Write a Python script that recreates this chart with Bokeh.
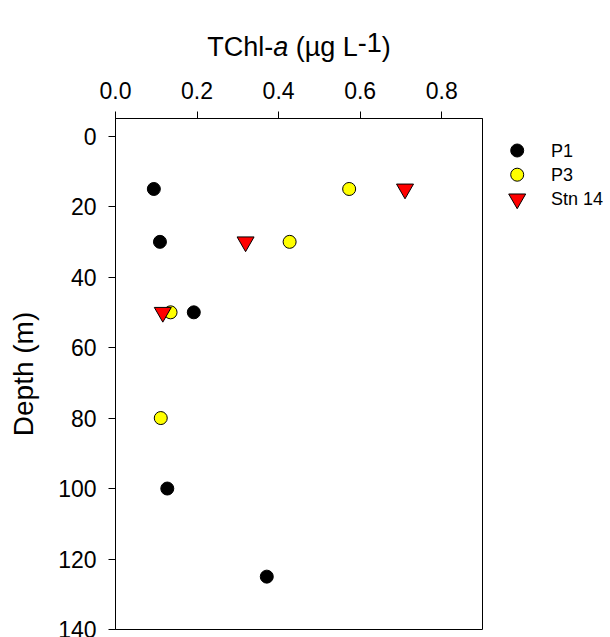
from bokeh.plotting import figure
from bokeh.models import Range1d, FixedTicker, PrintfTickFormatter, Label
from bokeh.layouts import row, column
from bokeh.core.properties import value
from bokeh.embed import file_html
from bokeh.resources import INLINE

# ---- data ----
p1_depth = [15, 30, 50, 100, 125]
p1_tchla = [0.094, 0.109, 0.192, 0.127, 0.371]
p3_depth = [15, 30, 50, 80]
p3_tchla = [0.573, 0.427, 0.135, 0.111]
stn14_depth = [15, 30, 50]
stn14_tchla = [0.710, 0.319, 0.116]
series_names = ["P1", "P3", "Stn 14"]
x_ticks = [0.0, 0.2, 0.4, 0.6, 0.8]
y_ticks = [0, 20, 40, 60, 80, 100, 120, 140]

# ---- styles ----
FONT = "Liberation Sans"
series_markers = ["circle", "circle", "inverted_triangle"]
series_fills = ["black", "#ffff00", "#ff0000"]
series_sizes = [13, 13, 17]

W, H = 610, 637
TITLE_H = 70
MAIN_W = 484
LEG_W = W - MAIN_W
FRAME_L, FRAME_R = 115, 482


def bare(fig):
    fig.grid.visible = False
    fig.outline_line_color = None
    fig.background_fill_color = "white"
    fig.border_fill_color = "white"


# ---- title strip (pixel coordinates, frame aligned with the main plot) ----
tf = figure(width=MAIN_W, height=TITLE_H, output_backend="svg",
            toolbar_location=None, x_axis_location=None, y_axis_location=None,
            x_range=Range1d(FRAME_L, FRAME_R), y_range=Range1d(TITLE_H, 0),
            min_border_left=FRAME_L, min_border_right=MAIN_W - FRAME_R,
            min_border_top=0, min_border_bottom=0)
bare(tf)
fs = 27
base_y = 46.5
SP = 0.278  # width of a space, em
# (text, style, space before in em, advance in em, vertical raise px)
pieces = [("TChl-", "normal", 0.0, 2.444, 0),
          ("a", "italic", 0.0, 0.556, 0),
          ("(\u00b5g", "normal", SP, 1.465, 0),
          ("L", "normal", SP, 0.556, 0),
          ("-1", "normal", 0.0, 0.889, 5),
          (")", "normal", 0.0, 0.333, 0)]
total = sum(s + w for _, _, s, w, _ in pieces) * fs
x0 = (FRAME_L + FRAME_R) / 2 - total / 2
for txt, style, s, w, dy in pieces:
    x0 += s * fs
    tf.add_layout(Label(x=x0, y=base_y - dy, text=txt, text_font=FONT,
                        text_font_size=f"{fs}px", text_font_style=style,
                        text_color="black", text_align="left",
                        text_baseline="alphabetic"))
    x0 += w * fs

# ---- main plot ----
p = figure(width=MAIN_W, height=H - TITLE_H, output_backend="svg",
           toolbar_location=None, x_axis_location="above",
           x_range=Range1d(0, 0.9), y_range=Range1d(140, -5),
           min_border_left=FRAME_L, min_border_right=MAIN_W - FRAME_R,
           min_border_top=118 - TITLE_H, min_border_bottom=8)
p.grid.visible = False
p.background_fill_color = "white"
p.border_fill_color = "white"
p.outline_line_color = "black"
p.outline_line_width = 1
p.outline_line_alpha = 1

p.scatter(p1_tchla, p1_depth, marker=series_markers[0], size=series_sizes[0],
          fill_color=series_fills[0], line_color="black")
p.scatter(p3_tchla, p3_depth, marker=series_markers[1], size=series_sizes[1],
          fill_color=series_fills[1], line_color="black")
p.scatter(stn14_tchla, stn14_depth, marker=series_markers[2], size=series_sizes[2],
          fill_color=series_fills[2], line_color="black")

xa = p.xaxis[0]
xa.ticker = FixedTicker(ticks=x_ticks, minor_ticks=[])
xa.formatter = PrintfTickFormatter(format="%.1f")
ya = p.yaxis[0]
ya.ticker = FixedTicker(ticks=y_ticks, minor_ticks=[])
for ax in (xa, ya):
    ax.axis_line_color = "black"
    ax.axis_line_width = 1
    ax.major_tick_line_color = "black"
    ax.major_tick_out = 7
    ax.major_tick_in = 0
    ax.minor_tick_out = 0
    ax.minor_tick_in = 0
    ax.major_label_text_font = FONT
    ax.major_label_text_font_size = "23px"
    ax.major_label_text_color = "black"
xa.major_label_standoff = 13
ya.major_label_standoff = 12
ya.axis_label = "Depth (m)"
ya.axis_label_text_font = FONT
ya.axis_label_text_font_size = "28px"
ya.axis_label_text_font_style = "normal"
ya.axis_label_text_color = "black"
ya.axis_label_standoff = 16

# ---- legend strip (pixel coordinates of the page) ----
lf = figure(width=LEG_W, height=H, output_backend="svg", toolbar_location=None,
            x_axis_location=None, y_axis_location=None,
            x_range=Range1d(MAIN_W, W), y_range=Range1d(H, 0), min_border=0)
bare(lf)
leg_rows = [150 + 24.2 * i for i in range(len(series_names))]
leg_mx = [516.7] * len(series_names)
leg_tx = [550.5] * len(series_names)
lf.scatter(leg_mx, leg_rows, marker=series_markers, size=series_sizes,
           fill_color=series_fills, line_color="black")
lf.text(leg_tx, leg_rows, text=series_names, text_font=value(FONT),
        text_font_size="18px", text_color="black", text_align="left",
        text_baseline="middle")

layout = row(column(tf, p), lf)
open("out.html", "w").write(file_html(layout, INLINE))
